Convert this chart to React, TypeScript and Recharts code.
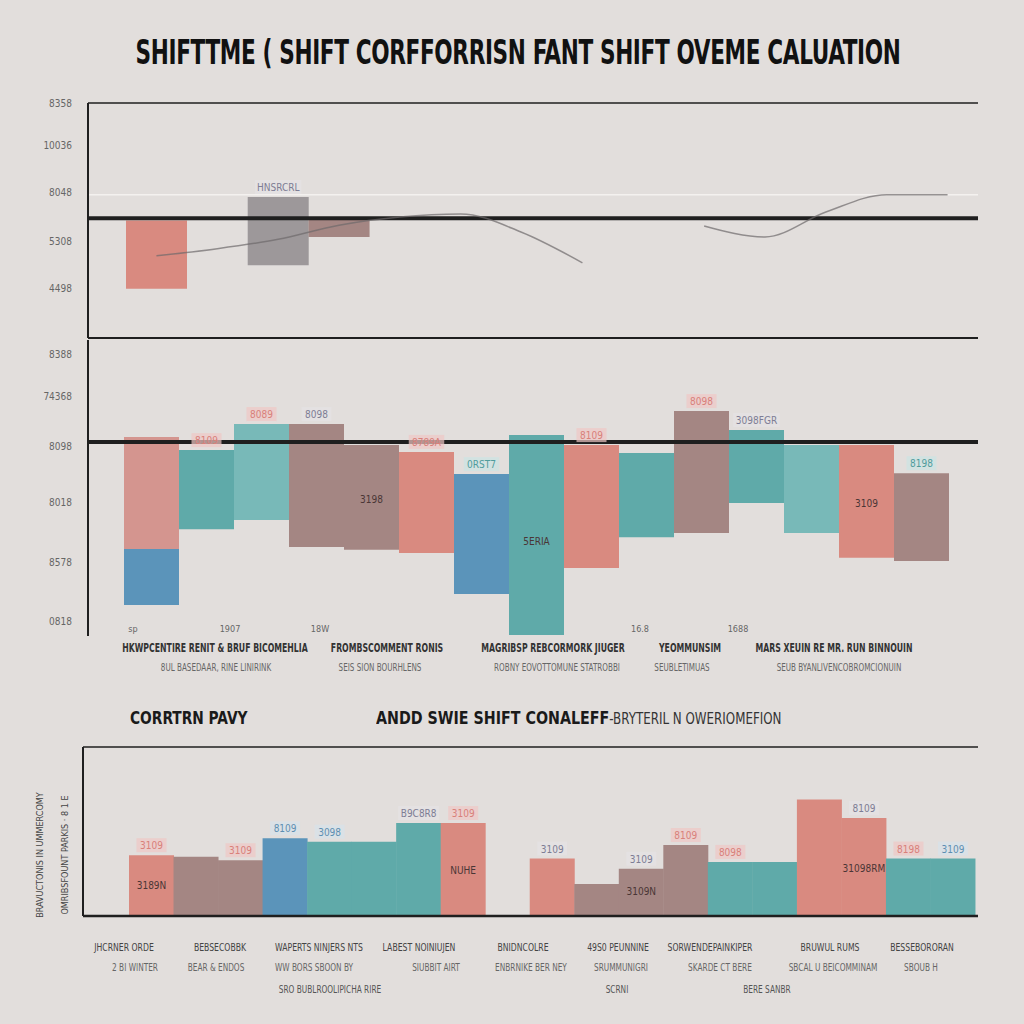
import React from "react";
import {
  ComposedChart,
  Bar,
  Line,
  XAxis,
  YAxis,
  ReferenceLine,
  Cell,
  LabelList,
} from "recharts";

// palette
const BG = "#e2dedc";
const INK = "#1f1f1f";
const SALMON = "#d98a80";
const PINK = "#d4958f";
const TEAL = "#5faaa9";
const LTEAL = "#78b9b8";
const BLUE = "#5b94ba";
const BROWN = "#a48683";
const GRAY = "#9d989a";

const NARROW = '"Liberation Sans Narrow", "DejaVu Sans Condensed", "Roboto", sans-serif';

// ---- chart 1: shift time comparison ----
const shiftCats = ["A1", "A2", "A3", "A4", "A5", "A6", "A7", "A8", "A9", "A10", "A11", "A12", "A13", "A14"];
const shiftRanges = [[21, 50], null, [31, 60], [43, 51], null, null, null, null, null, null, null, null, null, null];
const shiftColors = [SALMON, GRAY, GRAY, BROWN, GRAY, GRAY, GRAY, GRAY, GRAY, GRAY, GRAY, GRAY, GRAY, GRAY];
const shiftTrend = [35, 38, 42, 48, 51.5, 52.8, 45, 32, null, 47.7, 43, 53.6, 61, 61];
const shiftTop = ["", "", "HNSRCRL", "", "", "", "", "", "", "", "", "", "", ""];
const shiftTicks = [21, 41, 62, 82, 100];
const shiftTickLabels = ["4498", "5308", "8048", "10036", "8358"];
const shiftBase = 51;
const shiftThin = 61;

// ---- chart 2: shift overtime evaluation ----
const evalCats = ["B1", "B2", "B3", "B4", "B5", "B6", "B7", "B8", "B9", "B10", "B11", "B12", "B13", "B14", "B15"];
const evalRanges = [
  [29.4, 67.2], [36.1, 62.8], [39.2, 71.6], [30.1, 71.6], [29.1, 64.5],
  [28, 62.2], [14.2, 54.7], [0.3, 67.9], [23, 64.5], [33.4, 61.8],
  [34.8, 76], [44.9, 69.6], [34.8, 64.5], [26.4, 64.5], [25.3, 55],
];
const evalLower = [[10.5, 29.4], null, null, null, null, null, null, null, null, null, null, null, null, null, null];
const evalColors = [PINK, TEAL, LTEAL, BROWN, BROWN, SALMON, BLUE, TEAL, SALMON, TEAL, BROWN, TEAL, LTEAL, SALMON, BROWN];
const evalTop = ["", "8109", "8089", "8098", "", "8789A", "0RST7", "", "8109", "", "8098", "3098FGR", "", "", "8198"];
const evalTopTone = ["", "p", "p", "g", "", "p", "t", "", "p", "", "p", "g", "", "", "t"];
const evalInner = ["", "", "", "", "3198", "", "", "5ERIA", "", "", "", "", "", "3109", ""];
const evalTicks = [5, 25, 45, 64, 81, 95];
const evalTickLabels = ["0818", "8578", "8018", "8098", "74368", "8388"];
const evalBase = 65.5;
const evalSmall = ["sp", "1907", "18W", "", "", "", "", "", "", "16.8", "", "1688", "", "", ""];
const evalGroupsTop = [
  "HKWPCENTIRE RENIT & BRUF BICOMEHLIA",
  "FROMBSCOMMENT RONIS",
  "MAGRIBSP REBCORMORK JIUGER",
  "YEOMMUNSIM",
  "MARS XEUIN RE MR. RUN BINNOUIN",
];
const evalGroupsSub = [
  "8UL BASEDAAR, RINE LINIRINK",
  "SEIS SION BOURHLENS",
  "ROBNY EOVOTTOMUNE STATROBBI",
  "SEUBLETIMUAS",
  "SEUB BYANLIVENCOBROMCIONUIN",
];

// ---- chart 3: company shift ----
const compCats = ["C1", "C2", "C3", "C4", "C5", "C6", "C7", "C8", "C9", "C10", "C11", "C12", "C13", "C14", "C15", "C16", "C17", "C18", "C19"];
const compValues = [36, 35, 33, 46, 44, 44, 55, 55, null, 34, 19, 28, 42, 32, 32, 69, 58, 34, 34];
const compColors = [SALMON, BROWN, BROWN, BLUE, TEAL, TEAL, TEAL, SALMON, SALMON, SALMON, BROWN, BROWN, BROWN, TEAL, TEAL, SALMON, SALMON, TEAL, TEAL];
const compTop = ["3109", "", "3109", "8109", "3098", "", "B9C8R8", "3109", "", "3109", "", "3109", "8109", "8098", "", "", "8109", "8198", "3109"];
const compTopTone = ["p", "", "p", "b", "b", "", "g", "p", "", "p", "", "p", "p", "g", "", "", "p", "b", "p"];
const compInner = ["3189N", "", "", "", "", "", "", "NUHE", "", "", "", "3109N", "", "", "", "", "31098RM", "", ""];
const compLabelsTop = [
  "JHCRNER ORDE", "BEBSECOBBK", "WAPERTS NINJERS NTS", "LABEST NOINIUJEN", "BNIDNCOLRE",
  "49S0 PEUNNINE", "SORWENDEPAINKIPER", "BRUWUL RUMS", "BESSEBORORAN",
];
const compLabelsSub = [
  "2 BI WINTER", "BEAR & ENDOS", "WW BORS SBOON BY", "SIUBBIT AIRT", "ENBRNIKE BER NEY",
  "SRUMMUNIGRI", "SKARDE CT BERE", "SBCAL U BEICOMMINAM", "SBOUB H",
];
const compLabelsThird = ["SRO BUBLROOLIPICHA RIRE", "SCRNI", "BERE SANBR"];

const toneColor: Record<string, string> = {
  p: "#d9807a",
  g: "#7d7d94",
  t: "#4f9c9c",
  b: "#5d8fb2",
};
const toneBg: Record<string, string> = {
  p: "rgba(240,200,196,0.7)",
  g: "rgba(230,226,230,0.6)",
  t: "rgba(200,228,228,0.6)",
  b: "rgba(214,226,236,0.6)",
};

const shiftData = shiftCats.map((c, i) => ({
  name: c,
  range: shiftRanges[i],
  trend: shiftTrend[i],
  top: shiftTop[i],
}));
const evalData = evalCats.map((c, i) => ({
  name: c,
  range: evalRanges[i],
  lower: evalLower[i],
  top: evalTop[i],
  tone: evalTopTone[i],
  inner: evalInner[i],
}));
const compData = compCats.map((c, i) => ({
  name: c,
  value: compValues[i],
  top: compTop[i],
  tone: compTopTone[i],
  inner: compInner[i],
}));

function makeTopLabel(tones: string[]) {
  return (props: any) => {
    const { x, y, width, value, index } = props;
    if (!value) return null;
    const tone = tones[index] || "g";
    const cx = x + width / 2;
    const w = String(value).length * 5.5 + 8;
    return (
      <g>
        <rect x={cx - w / 2} y={y - 17} width={w} height={14} fill={toneBg[tone]} />
        <text x={cx} y={y - 6} textAnchor="middle" fontSize={10} fontFamily={NARROW} fill={toneColor[tone]}>
          {value}
        </text>
      </g>
    );
  };
}

const innerLabel = (props: any) => {
  const { x, y, width, height, value } = props;
  if (!value) return null;
  return (
    <text
      x={x + width / 2}
      y={y + Math.abs(height) * 0.55}
      textAnchor="middle"
      fontSize={10}
      fontFamily={NARROW}
      fill="#4a3636"
    >
      {value}
    </text>
  );
};

const tickStyle = { fontSize: 10, fill: "#666", fontFamily: NARROW };

function ShiftChart() {
  return (
    <ComposedChart
      width={1024}
      height={260}
      data={shiftData}
      barCategoryGap={0}
      margin={{ top: 13, right: 46, bottom: 12, left: 48 }}
    >
      <XAxis dataKey="name" hide padding={{ left: 38, right: 0 }} />
      <YAxis
        width={40}
        domain={[0, 100]}
        ticks={shiftTicks}
        tickFormatter={(v: number) => shiftTickLabels[shiftTicks.indexOf(v)]}
        tick={tickStyle}
        tickLine={false}
        tickMargin={10}
        axisLine={{ stroke: INK, strokeWidth: 2 }}
      />
      <ReferenceLine y={100} stroke={INK} strokeWidth={1.5} />
      <ReferenceLine y={0} stroke={INK} strokeWidth={2} />
      <ReferenceLine y={shiftThin} stroke="#f4f1ef" strokeWidth={1.5} />
      <Bar dataKey="range" isAnimationActive={false}>
        {shiftData.map((d, i) => (
          <Cell key={d.name} fill={shiftColors[i]} />
        ))}
        <LabelList dataKey="top" content={makeTopLabel(["g", "g", "g"])} />
      </Bar>
      <ReferenceLine y={shiftBase} stroke={INK} strokeWidth={4} />
      <Line
        type="monotone"
        dataKey="trend"
        stroke="#6d6a6b"
        strokeOpacity={0.7}
        strokeWidth={1.5}
        dot={false}
        connectNulls={false}
        isAnimationActive={false}
      />
    </ComposedChart>
  );
}

function EvalChart() {
  return (
    <ComposedChart
      width={1024}
      height={320}
      data={evalData}
      barCategoryGap={0}
      margin={{ top: 13, right: 46, bottom: 11, left: 48 }}
    >
      <XAxis xAxisId="a" dataKey="name" hide padding={{ left: 36, right: 29 }} />
      <XAxis xAxisId="b" dataKey="name" hide padding={{ left: 36, right: 29 }} />
      <YAxis
        width={40}
        domain={[0, 100]}
        ticks={evalTicks}
        tickFormatter={(v: number) => evalTickLabels[evalTicks.indexOf(v)]}
        tick={tickStyle}
        tickLine={false}
        tickMargin={10}
        axisLine={{ stroke: INK, strokeWidth: 2 }}
      />
      <Bar xAxisId="a" dataKey="range" isAnimationActive={false}>
        {evalData.map((d, i) => (
          <Cell key={d.name} fill={evalColors[i]} />
        ))}
        <LabelList dataKey="top" content={makeTopLabel(evalTopTone)} />
        <LabelList dataKey="inner" content={innerLabel} />
      </Bar>
      <Bar xAxisId="b" dataKey="lower" fill={BLUE} isAnimationActive={false} />
      <ReferenceLine xAxisId="a" y={evalBase} stroke={INK} strokeWidth={4} />
    </ComposedChart>
  );
}

function CompChart() {
  return (
    <ComposedChart
      width={1024}
      height={195}
      data={compData}
      barCategoryGap={0}
      margin={{ top: 12, right: 46, bottom: 14, left: 82 }}
    >
      <XAxis dataKey="name" hide padding={{ left: 46, right: 3 }} />
      <YAxis width={1} domain={[0, 100]} tick={false} tickLine={false} axisLine={{ stroke: INK, strokeWidth: 2 }} />
      <ReferenceLine y={100} stroke={INK} strokeWidth={1.5} />
      <Bar dataKey="value" isAnimationActive={false}>
        {compData.map((d, i) => (
          <Cell key={d.name} fill={compColors[i]} />
        ))}
        <LabelList dataKey="top" content={makeTopLabel(compTopTone)} />
        <LabelList dataKey="inner" content={innerLabel} />
      </Bar>
      <ReferenceLine y={0} stroke={INK} strokeWidth={2.5} />
    </ComposedChart>
  );
}

const abs = (top: number, left: number): React.CSSProperties => ({ position: "absolute", top, left });

const evalGroupX = [215, 387, 553, 690, 834];
const evalSubX = [216, 380, 557, 682, 839];
const evalSmallX = [133, 230, 320, 0, 0, 0, 0, 0, 0, 640, 0, 738, 0, 0, 0];
const compTopX = [124, 220, 319, 419, 523, 618, 710, 830, 922];
const compSubX = [135, 216, 314, 436, 531, 621, 720, 833, 921];
const compThirdX = [330, 617, 767];

function Centered({ x, y, size, color, weight, squeeze = 1, children }: any) {
  return (
    <div
      style={{
        position: "absolute",
        top: y,
        left: x - 150,
        width: 300,
        textAlign: "center",
        fontSize: size,
        color,
        fontWeight: weight,
        fontFamily: NARROW,
        whiteSpace: "nowrap",
        lineHeight: 1,
        transform: `scaleX(${squeeze})`,
        transformOrigin: "center",
      }}
    >
      {children}
    </div>
  );
}

export default function App() {
  return (
    <div
      style={{
        position: "absolute",
        top: 0,
        left: 0,
        width: 1024,
        height: 1024,
        background: BG,
        overflow: "hidden",
        fontFamily: NARROW,
      }}
    >
      <div
        style={{
          position: "absolute",
          top: 35,
          left: -194,
          width: 1424,
          textAlign: "center",
          fontSize: 34,
          fontWeight: 700,
          color: "#111",
          fontFamily: NARROW,
          lineHeight: 1,
          letterSpacing: -0.5,
          transform: "scaleX(0.706)",
          transformOrigin: "50% 0",
          whiteSpace: "nowrap",
        }}
      >
        SHIFTTME ( SHIFT CORFFORRISN FANT SHIFT OVEME CALUATION
      </div>

      <div style={abs(90, 0)}>
        <ShiftChart />
      </div>

      <div style={abs(327, 0)}>
        <EvalChart />
      </div>

      {evalSmall.map((s, i) =>
        s ? (
          <Centered key={"s" + i} x={evalSmallX[i]} y={625} size={9} color="#666">
            {s}
          </Centered>
        ) : null
      )}
      {evalGroupsTop.map((s, i) => (
        <Centered key={"g" + i} x={evalGroupX[i]} y={642} size={12} color="#333" weight={700} squeeze={0.72}>
          {s}
        </Centered>
      ))}
      {evalGroupsSub.map((s, i) => (
        <Centered key={"h" + i} x={evalSubX[i]} y={663} size={10} color="#666" squeeze={0.8}>
          {s}
        </Centered>
      ))}

      <div
        style={{
          position: "absolute",
          top: 709,
          left: 130,
          fontSize: 18,
          fontWeight: 700,
          color: "#1a1a1a",
          fontFamily: NARROW,
          lineHeight: 1,
          transform: "scaleX(0.85)",
          transformOrigin: "0 0",
          whiteSpace: "nowrap",
        }}
      >
        CORRTRN PAVY
      </div>
      <div
        style={{
          position: "absolute",
          top: 709,
          left: 376,
          fontSize: 18,
          color: "#1a1a1a",
          fontFamily: NARROW,
          lineHeight: 1,
          whiteSpace: "nowrap",
          transform: "scaleX(0.88)",
          transformOrigin: "0 0",
        }}
      >
        <span style={{ fontWeight: 700 }}>ANDD SWIE SHIFT CONALEFF</span>
        <span style={{ color: "#333", fontSize: 15 }}>-BRYTERIL N OWERIOMEFION</span>
      </div>

      <div
        style={{
          position: "absolute",
          top: 850,
          left: -30,
          width: 140,
          transform: "rotate(-90deg)",
          fontSize: 9,
          color: "#444",
          fontFamily: NARROW,
          textAlign: "center",
          whiteSpace: "nowrap",
        }}
      >
        BRAVUCTONIS IN UMMERCOMY
      </div>
      <div
        style={{
          position: "absolute",
          top: 850,
          left: -5,
          width: 140,
          transform: "rotate(-90deg)",
          fontSize: 9,
          color: "#444",
          fontFamily: NARROW,
          textAlign: "center",
          whiteSpace: "nowrap",
        }}
      >
        OMRIBSFOUNT PARKIS · 8 1 E
      </div>

      <div style={abs(735, 0)}>
        <CompChart />
      </div>

      {compLabelsTop.map((s, i) => (
        <Centered key={"t" + i} x={compTopX[i]} y={942} size={11} color="#444" squeeze={0.78}>
          {s}
        </Centered>
      ))}
      {compLabelsSub.map((s, i) => (
        <Centered key={"u" + i} x={compSubX[i]} y={963} size={10} color="#666" squeeze={0.82}>
          {s}
        </Centered>
      ))}
      {compLabelsThird.map((s, i) => (
        <Centered key={"v" + i} x={compThirdX[i]} y={985} size={10} color="#555" squeeze={0.82}>
          {s}
        </Centered>
      ))}
    </div>
  );
}
